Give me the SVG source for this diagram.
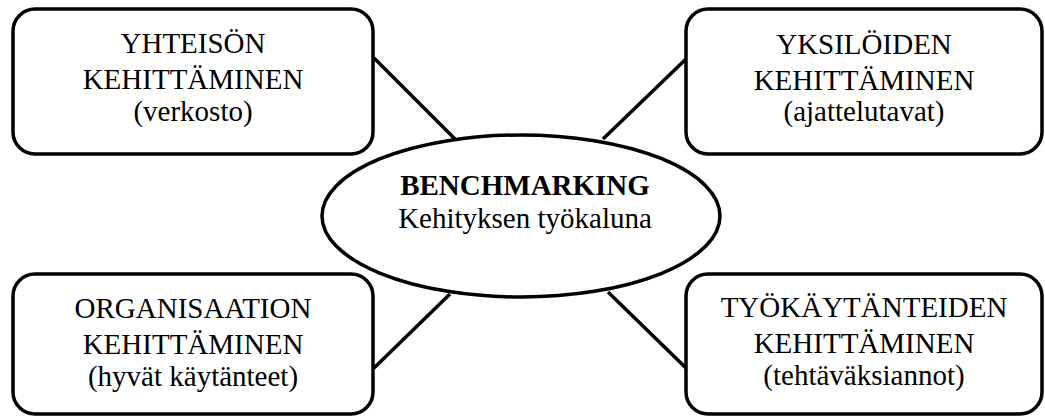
<svg xmlns="http://www.w3.org/2000/svg" width="1045" height="417" viewBox="0 0 1045 417">
<style>
.box{fill:#fff;stroke:#000;stroke-width:3.5}
.ell{fill:#fff;stroke:#000;stroke-width:3.5}
.con{stroke:#000;stroke-width:3.5;fill:none}
text{font-family:"Liberation Serif","Times New Roman",serif;font-size:29px;fill:#000;text-anchor:middle}
.b{font-weight:bold}
</style>
<rect width="1045" height="417" fill="#fff"/>
<g id="connectors">
<line class="con" x1="374" y1="58" x2="455" y2="139"/>
<line class="con" x1="686" y1="59" x2="603" y2="139"/>
<line class="con" x1="374" y1="368" x2="450" y2="294"/>
<line class="con" x1="686" y1="368" x2="608" y2="292"/>
</g>
<g id="center">
<ellipse class="ell" cx="521" cy="216" rx="199" ry="81"/>
<text x="525" y="195" class="b">BENCHMARKING</text>
<text x="525" y="228">Kehityksen työkaluna</text>
</g>
<g id="yhteison">
<rect class="box" x="13" y="9" width="360" height="145" rx="22"/>
<text x="193" y="53">YHTEISÖN</text>
<text x="193" y="89">KEHITTÄMINEN</text>
<text x="193" y="121">(verkosto)</text>
</g>
<g id="yksiloiden">
<rect class="box" x="686" y="9" width="356" height="145" rx="22"/>
<text x="864" y="54">YKSILÖIDEN</text>
<text x="864" y="90">KEHITTÄMINEN</text>
<text x="864" y="121">(ajattelutavat)</text>
</g>
<g id="organisaation">
<rect class="box" x="13" y="274" width="360" height="140" rx="22"/>
<text x="193" y="318">ORGANISAATION</text>
<text x="193" y="354">KEHITTÄMINEN</text>
<text x="193" y="386">(hyvät käytänteet)</text>
</g>
<g id="tyokaytanteiden">
<rect class="box" x="686" y="274" width="356" height="140" rx="22"/>
<text x="864" y="317">TYÖKÄYTÄNTEIDEN</text>
<text x="864" y="353">KEHITTÄMINEN</text>
<text x="864" y="385">(tehtäväksiannot)</text>
</g>
</svg>
